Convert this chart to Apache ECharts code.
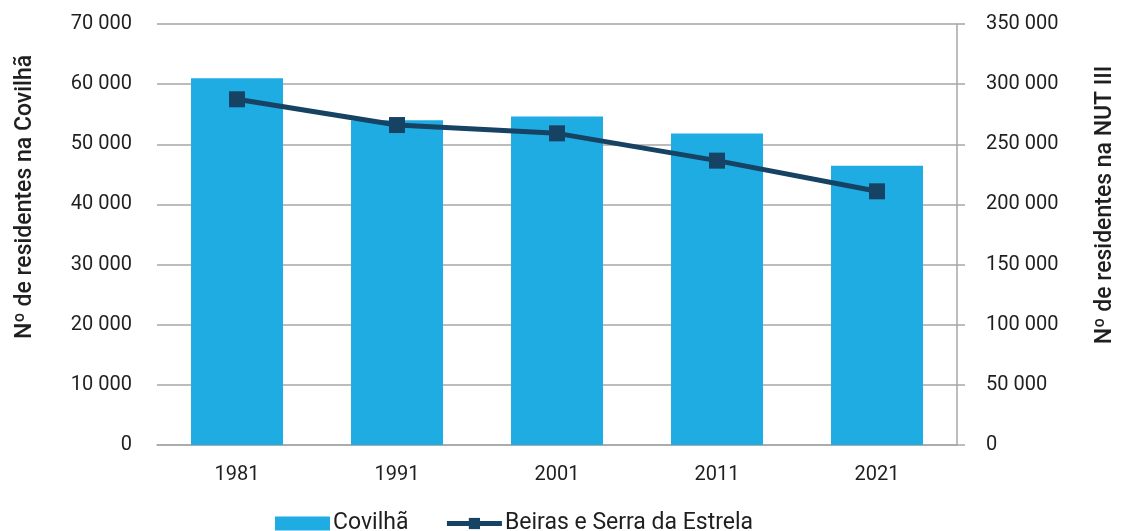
<!DOCTYPE html>
<html>
<head>
<meta charset="utf-8">
<script src="https://cdn.jsdelivr.net/npm/echarts@6/dist/echarts.min.js"></script>
<style>
    html, body { margin: 0; padding: 0; background: #fff; }
    #chart1 { width: 1121px; height: 531px; }
</style>
</head>
<body>
<div id="chart1"></div>
<script>
// dados
var anos = ['1981', '1991', '2001', '2011', '2021'];
var covilha = [61000, 54000, 54600, 51800, 46450];
var beiras = [287400, 266000, 259100, 236400, 210900];
var serieBarra = 'Covilhã';
var serieLinha = 'Beiras e Serra da Estrela';

var chart1 = echarts.init(document.getElementById('chart1'));
var fonte = 'Roboto, "DejaVu Sans", sans-serif';
var corTexto = '#1f1f1f';
var corEixo = '#a6a6a6';
var corLinha = '#164263';

function fmt(v) {
    return String(v).replace(/\B(?=(\d{3})+(?!\d))/g, ' ');
}

function titulo(texto, x, y) {
    return {
        type: 'text',
        x: x, y: y,
        rotation: Math.PI / 2,
        style: {
            text: texto,
            font: '500 23px ' + fonte,
            fill: corTexto,
            align: 'center',
            verticalAlign: 'middle'
        }
    };
}

var option = {
    animation: false,
    textStyle: { fontFamily: fonte },
    grid: { left: 157, right: 164, top: 24, bottom: 86 },
    legend: {
        left: 270,
        top: 507,
        itemWidth: 55,
        itemHeight: 14,
        itemGap: 36,
        textStyle: { fontSize: 23, color: corTexto, fontFamily: fonte, padding: [0, 0, 0, -2] },
        data: [
            { name: serieBarra, icon: 'rect' },
            { name: serieLinha, lineStyle: { width: 5 } }
        ]
    },
    xAxis: {
        type: 'category',
        data: anos,
        axisLine: { lineStyle: { color: corEixo, width: 1.5 } },
        axisTick: { show: false },
        axisLabel: { fontSize: 20, color: corTexto, margin: 20 }
    },
    yAxis: [{
        type: 'value',
        min: 0, max: 70000, interval: 10000,
        axisLine: { show: false },
        axisTick: { show: false },
        splitLine: { lineStyle: { color: corEixo, width: 1.5 } },
        axisLabel: { fontSize: 20, color: corTexto, margin: 25, formatter: fmt }
    }, {
        type: 'value',
        min: 0, max: 350000, interval: 50000,
        axisLine: { show: true, lineStyle: { color: corEixo, width: 1.5 } },
        axisTick: { show: true, length: 8, lineStyle: { color: corEixo, width: 1.5 } },
        splitLine: { show: false },
        axisLabel: { fontSize: 20, color: corTexto, margin: 29, formatter: fmt }
    }],
    graphic: [
        titulo('Nº de residentes na Covilhã', 25, 197),
        titulo('Nº de residentes na NUT III', 1105, 205)
    ],
    series: [{
        name: serieBarra,
        type: 'bar',
        data: covilha,
        barWidth: '57.5%',
        itemStyle: { color: '#1eace3' }
    }, {
        name: serieLinha,
        type: 'line',
        yAxisIndex: 1,
        data: beiras,
        symbol: 'rect',
        symbolSize: 16,
        lineStyle: { color: corLinha, width: 5 },
        itemStyle: { color: corLinha }
    }]
};
chart1.setOption(option, true);
</script>
</body>
</html>
